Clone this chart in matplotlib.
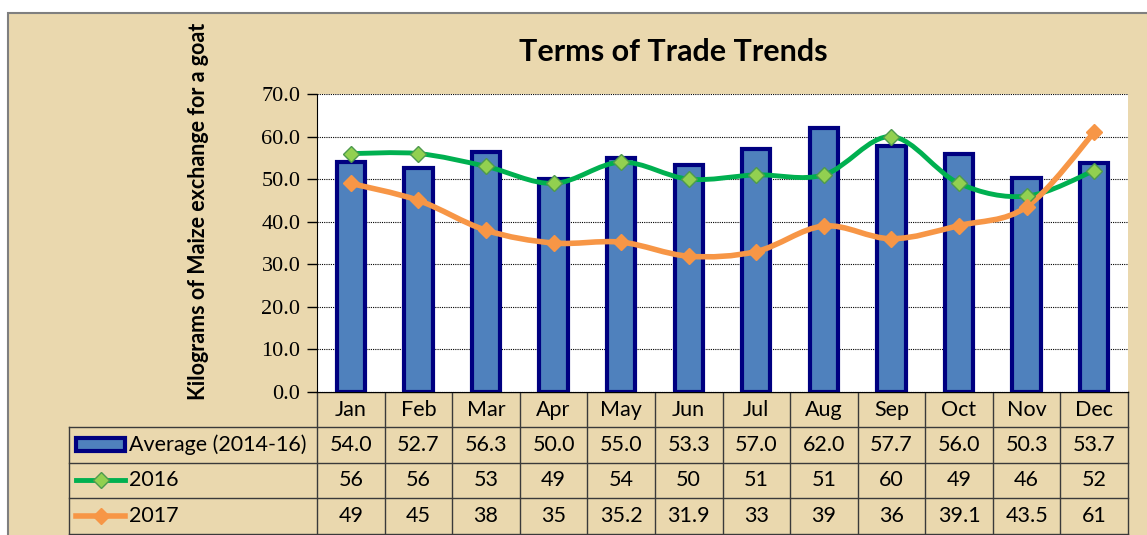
import matplotlib.pyplot as plt
import matplotlib.transforms as mtransforms
from matplotlib.path import Path
from matplotlib.patches import PathPatch, Rectangle
import numpy as np

months = ["Jan", "Feb", "Mar", "Apr", "May", "Jun", "Jul", "Aug", "Sep", "Oct", "Nov", "Dec"]
avg_2014_16 = [54.0, 52.7, 56.3, 50.0, 55.0, 53.3, 57.0, 62.0, 57.7, 56.0, 50.3, 53.7]
y2016 = [56, 56, 53, 49, 54, 50, 51, 51, 60, 49, 46, 52]
y2017 = [49, 45, 38, 35, 35.2, 31.9, 33, 39, 36, 39.1, 43.5, 61]
avg_labels = ["54.0", "52.7", "56.3", "50.0", "55.0", "53.3", "57.0", "62.0", "57.7", "56.0", "50.3", "53.7"]
labels_2016 = ["56", "56", "53", "49", "54", "50", "51", "51", "60", "49", "46", "52"]
labels_2017 = ["49", "45", "38", "35", "35.2", "31.9", "33", "39", "36", "39.1", "43.5", "61"]

paper = "#ead8ae"
bar_fill = "#4f81bd"
bar_edge = "#000080"
green = "#00b050"
orange = "#f79646"
sans = ["Lato", "DejaVu Sans"]
serif = ["Liberation Serif", "DejaVu Serif"]
fs = 15.5

W, H = 1147, 535
fig = plt.figure(figsize=(W / 100, H / 100), dpi=100)
fig.patch.set_facecolor("white")

# background layer in pixel coordinates
bg = fig.add_axes([0, 0, 1, 1], zorder=0)
bg.set_xlim(0, W)
bg.set_ylim(H, 0)
bg.axis("off")
bg.add_patch(Rectangle((8, 12.5), W + 20, H + 20, facecolor=paper,
                       edgecolor="#7f7f7f", lw=1.5))

ax = fig.add_axes([317 / W, 1 - 392 / H, (1128 - 317) / W, (392 - 94) / H], zorder=2)
x = np.arange(len(months))

ax.bar(x, avg_2014_16, width=0.42, color=bar_fill, edgecolor=bar_edge, lw=3, zorder=3)


def smooth(xs, ys):
    # Excel-style smoothed line: cubic bezier through every point
    p = np.column_stack([xs, ys]).astype(float)
    ext = np.vstack([p[0], p, p[-1]])
    verts = [p[0]]
    codes = [Path.MOVETO]
    for i in range(len(p) - 1):
        c1 = ext[i + 1] + (ext[i + 2] - ext[i]) / 6
        c2 = ext[i + 2] - (ext[i + 3] - ext[i + 1]) / 6
        verts += [c1, c2, p[i + 1]]
        codes += [Path.CURVE4] * 3
    return Path(verts, codes)


ax.add_patch(PathPatch(smooth(x, y2016), facecolor="none", edgecolor=green, lw=3.5, zorder=4))
ax.plot(x, y2016, ls="none", marker="D", ms=8.5, mfc="#92d050", mec="#4e9a4e", mew=1, zorder=5)
ax.add_patch(PathPatch(smooth(x, y2017), facecolor="none", edgecolor=orange, lw=4, zorder=4))
ax.plot(x, y2017, ls="none", marker="D", ms=8.5, mfc=orange, mec=orange, zorder=5)

ax.set_xlim(-0.5, 11.5)
ax.set_ylim(0, 70)
ax.set_yticks(np.arange(0, 71, 10))
ax.set_yticklabels([f"{v:.1f}" for v in np.arange(0, 71, 10)], family=serif, fontsize=16)
ax.set_xticks([])
ax.tick_params(axis="y", direction="out", length=7, width=1, pad=5)
ax.grid(axis="y", color="black", ls=(0, (1, 1)), lw=0.8, zorder=1)
ax.set_axisbelow(True)
for s in ["top", "right"]:
    ax.spines[s].set_visible(False)
ax.spines["left"].set_color("black")
ax.spines["bottom"].set_color("black")

ax.set_ylabel("Kilograms of Maize exchange for a goat", family=sans, fontsize=15.5,
              fontweight="bold")
ax.yaxis.set_label_coords(-0.133, 0.605)

fig.text(673 / W, 1 - 52 / H, "Terms of Trade Trends", family=sans, fontsize=22,
         fontweight="bold", ha="center", va="center")

# data table under the chart: x from main axes, y in pixels
tr = mtransforms.blended_transform_factory(ax.transData, bg.transData)
rows = [392, 427, 462.5, 498, 533.5]
lc = "#3a3a3a"
left_px = 69
for yy in rows[1:]:
    bg.plot([left_px, 1128], [yy, yy], color=lc, lw=1)
bg.plot([317, 1128], [rows[0], rows[0]], color=lc, lw=1)
bg.plot([left_px, left_px], [rows[1], rows[-1]], color=lc, lw=1)
for i in range(len(months) + 1):
    bg.plot([i - 0.5, i - 0.5], [rows[0], rows[-1]], color=lc, lw=1, transform=tr)

mid = [(rows[k] + rows[k + 1]) / 2 for k in range(4)]
for i, m in enumerate(months):
    bg.text(i, mid[0], m, transform=tr, ha="center", va="center", family=sans, fontsize=fs)
    bg.text(i, mid[1], avg_labels[i], transform=tr, ha="center", va="center", family=sans, fontsize=fs)
    bg.text(i, mid[2], labels_2016[i], transform=tr, ha="center", va="center", family=sans, fontsize=fs)
    bg.text(i, mid[3], labels_2017[i], transform=tr, ha="center", va="center", family=sans, fontsize=fs)

# legend keys in the first column
bg.add_patch(Rectangle((76, mid[1] - 6.5), 49, 13, facecolor=bar_fill, edgecolor=bar_edge, lw=3))
bg.text(129, mid[1], "Average (2014-16)", ha="left", va="center", family=sans, fontsize=fs)
bg.plot([76, 125], [mid[2], mid[2]], color=green, lw=3.5)
bg.plot([100.5], [mid[2]], marker="D", ms=8.5, mfc="#92d050", mec="#4e9a4e")
bg.text(129, mid[2], "2016", ha="left", va="center", family=sans, fontsize=fs)
bg.plot([76, 125], [mid[3], mid[3]], color=orange, lw=4)
bg.plot([100.5], [mid[3]], marker="D", ms=8.5, mfc=orange, mec=orange)
bg.text(129, mid[3], "2017", ha="left", va="center", family=sans, fontsize=fs)

fig.savefig("out.png", dpi=100)
